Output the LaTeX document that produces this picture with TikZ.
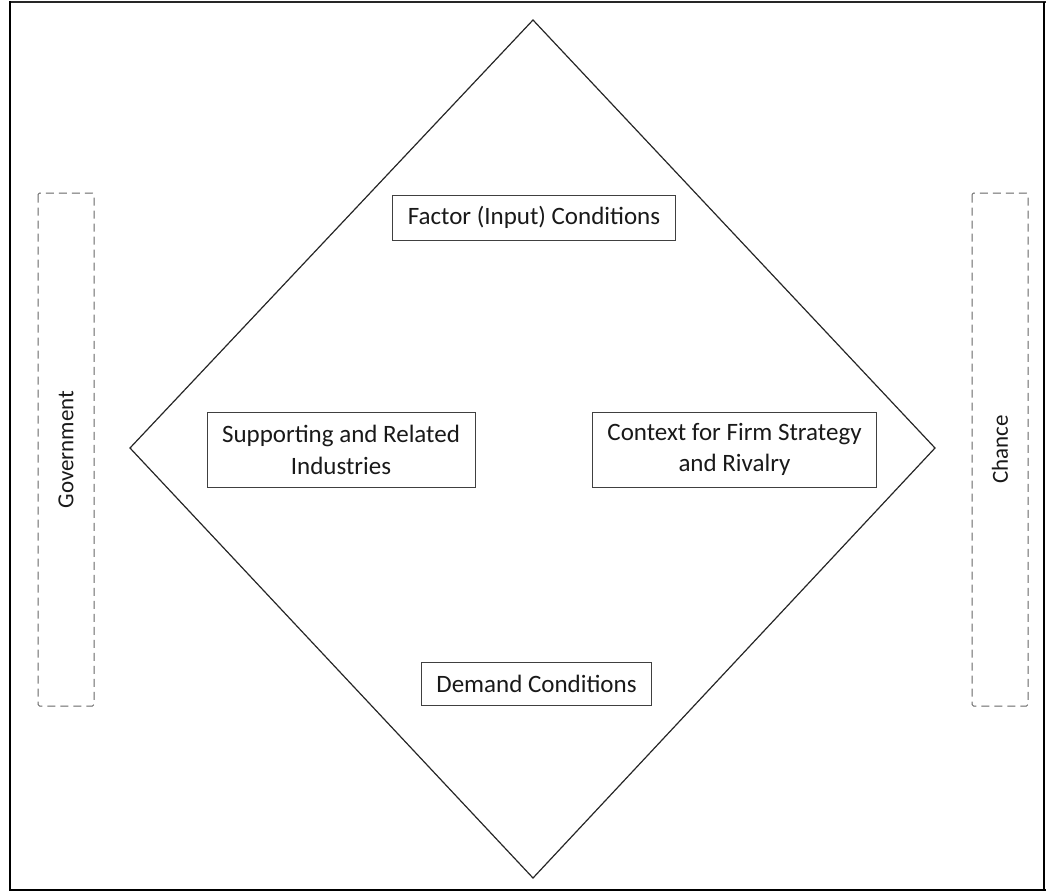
\documentclass[tikz,border=0pt]{standalone}
\usepackage{fontspec}
\setmainfont{Carlito}
\begin{document}
\begin{tikzpicture}[x=1pt,y=-1pt,
  lbl/.style={draw=black!75,line width=0.9pt,inner sep=0pt,align=center,
    font=\fontsize{25}{31.5}\selectfont,text=black!90},
  sidetext/.style={rotate=90,font=\fontsize{23}{27}\selectfont,text=black!90},
  side/.style={draw=black!60,line width=1pt,dash pattern=on 8pt off 5pt,rounded corners=1.5pt}]
\useasboundingbox (0,0) rectangle (1047,892);
% outer frame
\draw[black!85,line width=1.4pt] (10,2) -- (1046,2);
\draw[black,line width=2.2pt] (10,1) -- (10,891);
\draw[black,line width=1.8pt] (10,890) -- (1046,890);
\draw[black,line width=1.4pt] (1044,2) -- (1044,890);
% the diamond
\coordinate (top) at (533,20);
\coordinate (right) at (935,448);
\coordinate (bottom) at (533,878);
\coordinate (left) at (130,448);
\draw[black!85,line width=1.2pt,line join=miter] (top) -- (right) -- (bottom) -- (left) -- cycle;
% the four determinants
\node[lbl,minimum width=283pt,minimum height=45pt] (factor) at (534,217.5) {Factor (Input) Conditions};
\node[lbl,minimum width=268pt,minimum height=75pt] (support) at (341,450) {Supporting and Related\\Industries};
\node[lbl,minimum width=284pt,minimum height=75pt] (context) at (734.5,449.5) {Context for Firm Strategy\\and Rivalry};
\node[lbl,minimum width=230pt,minimum height=43pt] (demand) at (536.5,683.5) {Demand Conditions};
% outside influences
\draw[side] (38,193) rectangle (94,706);
\node[sidetext] (gov) at (66,449.5) {Government};
\draw[side] (972,193) rectangle (1028,706);
\node[sidetext] (chance) at (1000,449.5) {Chance};
\end{tikzpicture}
\end{document}
